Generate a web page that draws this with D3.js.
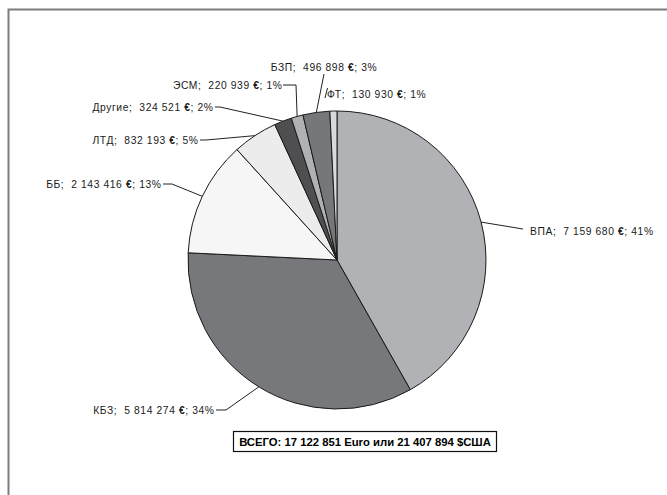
<!DOCTYPE html>
<html><head><meta charset="utf-8">
<script src="https://cdn.jsdelivr.net/npm/d3@7/dist/d3.min.js"></script>
<style>
html,body{margin:0;padding:0;background:#fff;}
svg{display:block;font-family:"Liberation Sans",Arial,sans-serif;}
text{white-space:pre;}
</style></head>
<body>
<svg id="c" width="667" height="495"></svg>
<script>
// ---- data ----
const categories = ["ВПА","КБЗ","ББ","ЛТД","Другие","ЭСМ","БЗП","ФТ"];
const values = [7159680, 5814274, 2143416, 832193, 324521, 220939, 496898, 130930];
const valueLabels = ["7 159 680","5 814 274","2 143 416","832 193","324 521","220 939","496 898","130 930"];
const percentLabels = ["41%","34%","13%","5%","2%","1%","3%","1%"];
const totalLabel = "ВСЕГО: 17 122 851 Euro или 21 407 894 $США";

// ---- style / layout ----
const colors = ["#b1b2b5","#77787b","#f6f6f6","#ebeceb","#4f4f51","#b0b1b4","#767779","#d9dadc"];
const labelLayout = [
  {x:530, y:231, anchor:"start", pts:[[523,229]]},
  {x:214, y:410, anchor:"end",   pts:[[216,410],[226,410]]},
  {x:161, y:184, anchor:"end",   pts:[[163,184],[172,184]]},
  {x:198, y:140, anchor:"end",   pts:[[200,140],[206,140]]},
  {x:213, y:107, anchor:"end",   pts:[[215,107],[220,107]]},
  {x:282, y:85,  anchor:"end",   pts:[[283,85],[296,85]]},
  {x:324, y:67,  anchor:"middle",pts:[[324,74]]},
  {x:327, y:94,  anchor:"start", pts:null}
];

const svg = d3.select("#c");
svg.append("path").attr("d","M8.5,495V9.5H667").attr("fill","none")
  .attr("stroke","#7d7d7d").attr("stroke-width",2);

const cx = 337, cy = 260, r = 149;
const g = svg.append("g").attr("transform",`translate(${cx},${cy})`);
const pie = d3.pie().sort(null).value(d=>d)(values);
const arc = d3.arc().innerRadius(0).outerRadius(r);

g.selectAll("path.slice").data(pie).join("path")
  .attr("class","slice")
  .attr("d",arc)
  .attr("fill",(d,i)=>colors[i])
  .attr("stroke","#1a1a1a").attr("stroke-width",1).attr("stroke-linejoin","round");

const line = d3.line();
pie.forEach((d,i)=>{
  const L = labelLayout[i];
  const a = (d.startAngle+d.endAngle)/2;
  const rim = [cx + r*Math.sin(a), cy - r*Math.cos(a)];
  if (L.pts) {
    svg.append("path").attr("d", line([...L.pts, rim]))
      .attr("fill","none").attr("stroke","#222").attr("stroke-width",1);
  }
});
svg.append("path").attr("d","M327.5,88L325,98").attr("stroke","#222").attr("stroke-width",1);

labelLayout.forEach((L,i)=>{
  const t = svg.append("text").attr("y",L.y+3.7)
    .attr("font-size",10.3).attr("letter-spacing",0.6).attr("fill","#1a1a1a");
  t.append("tspan").text(`${categories[i]};  ${valueLabels[i]} `);
  t.append("tspan").attr("font-weight","bold").text("€");
  t.append("tspan").text(`; ${percentLabels[i]}`);
  const w = t.node().getComputedTextLength();
  let x0 = L.x;
  if (L.anchor === "end") x0 = L.x - w + 0.6;
  else if (L.anchor === "middle") x0 = L.x - w/2;
  t.attr("x", x0);
});

svg.append("rect").attr("x",233.5).attr("y",431.5).attr("width",263).attr("height",20)
  .attr("fill","#fff").attr("stroke","#111").attr("stroke-width",1.2);
svg.append("text").attr("x",365).attr("y",445.5).attr("text-anchor","middle")
  .attr("font-size",11.3).attr("font-weight","bold").attr("fill","#000").text(totalLabel);
</script>
</body></html>
